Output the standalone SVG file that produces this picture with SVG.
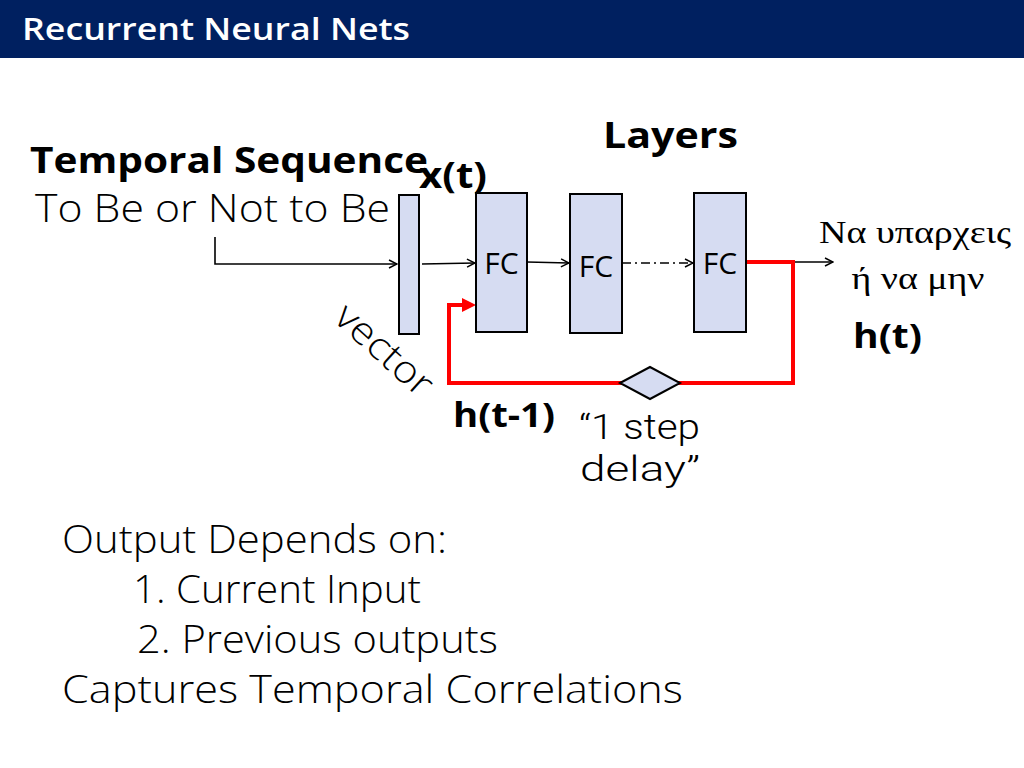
<svg xmlns="http://www.w3.org/2000/svg" width="1024" height="768" viewBox="0 0 1024 768">
<defs>
<style>
.hdr{font-family:"Open Sans","Noto Sans",sans-serif;font-weight:600;fill:#ffffff}
.bold{font-family:"Open Sans","Noto Sans",sans-serif;font-weight:700;fill:#000}
.light{font-family:"Open Sans","Noto Sans",sans-serif;font-weight:300;fill:#000}
.rlight{font-family:Roboto,"Liberation Sans",sans-serif;font-weight:300;fill:#000}
.fc{font-family:"Open Sans","Liberation Sans",sans-serif;font-weight:400;fill:#000;font-size:30px}
.greek{font-family:"Liberation Serif","DejaVu Serif",serif;fill:#000;font-size:31px}
.box{fill:#d6dcf2;stroke:#000;stroke-width:2}
.wire{fill:none;stroke:#000;stroke-width:1.6}
.red{fill:none;stroke:#ff0000;stroke-width:4}
</style>
<marker id="arr" viewBox="0 0 10 10" refX="9" refY="5" markerWidth="10" markerHeight="10" markerUnits="userSpaceOnUse" orient="auto">
<path d="M1,1 L9,5 L1,9" fill="none" stroke="#000" stroke-width="1.5"/>
</marker>
</defs>
<rect x="0" y="0" width="1024" height="58" fill="#002060"/>
<text class="hdr" x="22" y="40" font-size="31" textLength="388" lengthAdjust="spacingAndGlyphs">Recurrent Neural Nets</text>

<text class="bold" x="603" y="148" font-size="36" textLength="135" lengthAdjust="spacingAndGlyphs">Layers</text>
<text class="bold" x="30" y="173" font-size="36" textLength="398" lengthAdjust="spacingAndGlyphs">Temporal Sequence</text>
<text class="bold" x="419" y="188" font-size="36" textLength="68" lengthAdjust="spacingAndGlyphs">x(t)</text>
<text class="light" x="35" y="222" font-size="38" textLength="355" lengthAdjust="spacingAndGlyphs">To Be or Not to Be</text>
<text class="light" font-size="38" transform="translate(332,320) rotate(42)" textLength="118" lengthAdjust="spacingAndGlyphs">vector</text>

<g id="connectors">
<path class="wire" d="M215,237 L215,264 L397,264" marker-end="url(#arr)"/>
<path class="wire" d="M422,264 L475,263" marker-end="url(#arr)"/>
<path class="wire" d="M527,262 L569,263" marker-end="url(#arr)"/>
<path class="wire" d="M622,263 L693,263" stroke-dasharray="9 4 2 4" marker-end="url(#arr)"/>
<path class="wire" d="M793,262 L833,262" marker-end="url(#arr)"/>
<path class="red" d="M746,262 L793,262 L793,383 L449,383 L449,305 L462,305"/>
<path d="M462,298 L476,305 L462,312 Z" fill="#ff0000"/>
</g>

<g id="vector-node"><rect class="box" x="399" y="195" width="20" height="139"/></g>
<g id="fc1"><rect class="box" x="476" y="193" width="51" height="139"/><text class="fc" x="501.5" y="274" text-anchor="middle">FC</text></g>
<g id="fc2"><rect class="box" x="570" y="194" width="52" height="139"/><text class="fc" x="596" y="277" text-anchor="middle">FC</text></g>
<g id="fc3"><rect class="box" x="694" y="193" width="52" height="139"/><text class="fc" x="720" y="274" text-anchor="middle">FC</text></g>
<g id="delay"><polygon class="box" points="620,383 650,367 680,383 650,399"/></g>

<text class="greek" x="915" y="243" text-anchor="middle" textLength="192" lengthAdjust="spacingAndGlyphs">Να υπαρχεις</text>
<text class="greek" x="918" y="289" text-anchor="middle" textLength="133" lengthAdjust="spacingAndGlyphs">ή να μην</text>
<text class="bold" x="853" y="348" font-size="34" textLength="69" lengthAdjust="spacingAndGlyphs">h(t)</text>
<text class="bold" x="453" y="427" font-size="34" textLength="102" lengthAdjust="spacingAndGlyphs">h(t-1)</text>
<text class="rlight" x="579" y="439" font-size="35" textLength="121" lengthAdjust="spacingAndGlyphs">“1 step</text>
<text class="rlight" x="580" y="481" font-size="35" textLength="120" lengthAdjust="spacingAndGlyphs">delay”</text>

<text class="light" x="62" y="553" font-size="38" textLength="385" lengthAdjust="spacingAndGlyphs">Output Depends on:</text>
<text class="light" x="133" y="603" font-size="38" textLength="288" lengthAdjust="spacingAndGlyphs">1. Current Input</text>
<text class="light" x="137" y="653" font-size="38" textLength="361" lengthAdjust="spacingAndGlyphs">2. Previous outputs</text>
<text class="light" x="62" y="703" font-size="38" textLength="621" lengthAdjust="spacingAndGlyphs">Captures Temporal Correlations</text>
</svg>
